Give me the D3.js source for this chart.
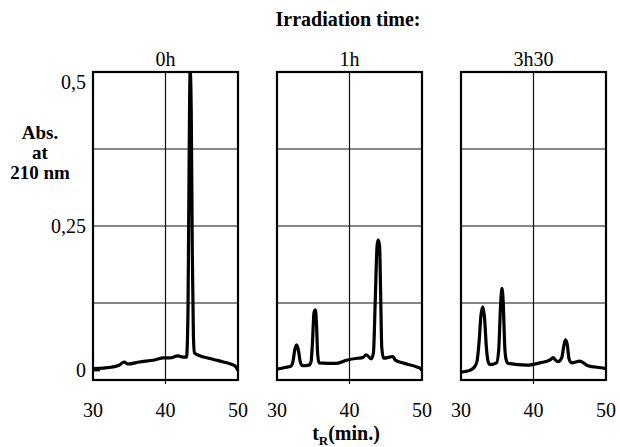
<!DOCTYPE html>
<meta charset="utf-8">

<script src="https://d3js.org/d3.v7.min.js"></script>

<style>
  body { margin: 0; background: #fff; }
</style>

<div id="chart"></div>

<script>

// panels and their chromatograms (retention time in min, absorbance)
var panelLabels = ["0h", "1h", "3h30"]

var t0h = [30, 31.5, 33.6, 34.3, 34.8, 36.4, 38.5, 39.7, 40.6, 41.7, 42.4, 42.9, 43.1, 43.25, 43.4, 43.55, 43.7, 43.85, 44.0, 44.4, 44.8, 45.8, 46.9, 48.0, 49.0, 49.6, 50]
var a0h = [0.003, 0.004, 0.009, 0.0145, 0.011, 0.0145, 0.018, 0.0215, 0.0215, 0.025, 0.023, 0.023, 0.1, 0.35, 0.52, 0.45, 0.2, 0.06, 0.03, 0.027, 0.025, 0.0215, 0.018, 0.0145, 0.011, 0.0075, 0.0]

var t1h = [30, 31.1, 31.9, 32.2, 32.45, 32.7, 32.95, 33.2, 33.5, 34.4, 34.7, 34.9, 35.1, 35.3, 35.45, 35.6, 35.8, 38.2, 39.7, 41.1, 41.8, 42.3, 43.0, 43.3, 43.55, 43.8, 43.95, 44.15, 44.3, 44.45, 44.7, 46.0, 46.3, 47.3, 49.3, 49.7, 50]
var a1h = [0.002, 0.005, 0.007, 0.015, 0.035, 0.044, 0.035, 0.015, 0.008, 0.009, 0.015, 0.05, 0.1, 0.105, 0.08, 0.03, 0.013, 0.012, 0.018, 0.021, 0.022, 0.027, 0.02, 0.03, 0.12, 0.215, 0.226, 0.215, 0.13, 0.04, 0.021, 0.024, 0.018, 0.013, 0.006, 0.004, 0.0]

var t3h30 = [30, 30.6, 31.2, 31.8, 32.2, 32.5, 32.75, 33.0, 33.25, 33.5, 33.75, 34.0, 34.9, 35.2, 35.45, 35.65, 35.85, 36.0, 36.2, 36.5, 39.1, 40.9, 42.3, 42.7, 43.1, 43.4, 43.9, 44.15, 44.4, 44.65, 44.9, 45.25, 46.4, 47.5, 49.6, 50]
var a3h30 = [-0.003, -0.002, 0.0, 0.005, 0.015, 0.05, 0.095, 0.11, 0.09, 0.04, 0.015, 0.01, 0.013, 0.035, 0.11, 0.142, 0.11, 0.05, 0.02, 0.012, 0.009, 0.013, 0.018, 0.022, 0.017, 0.015, 0.022, 0.04, 0.053, 0.045, 0.02, 0.013, 0.016, 0.008, 0.004, 0.003]

var xTicks = [30, 40, 50]
var yTicks = [0, 0.25, 0.5]
var yTickLabels = ["0", "0,25", "0,5"]

var times = [t0h, t1h, t3h30]
var values = [a0h, a1h, a3h30]

var width = 620, height = 447
var panelW = 145, panelStep = 184, left0 = 93
var serif = "'Liberation Serif', 'Times New Roman', Times, 'DejaVu Serif', serif"

var svg = d3.select("#chart")
  .append("svg")
  .attr("width", width)
  .attr("height", height)
  .attr("font-family", serif)

// shared absorbance scale; the frame runs a little below 0 and above 0.5
var y = d3.scaleLinear()
  .domain([-0.0167, 0.5167])
  .range([380, 72])
var yDom = y.domain()
var gridY = d3.range(1, 4).map(function(i){ return yDom[0] + i * (yDom[1] - yDom[0]) / 4 })

var line = d3.line()
  .x(function(d){ return d.x })
  .y(function(d){ return y(d.a) })
  .curve(d3.curveMonotoneX)

panelLabels.forEach(function(label, i) {
  var x0 = left0 + i * panelStep
  var x = d3.scaleLinear().domain([30, 50]).range([x0, x0 + panelW])
  var g = svg.append("g")

  g.append("clipPath").attr("id", "clip" + i)
    .append("rect")
      .attr("x", x(30)).attr("y", y(yDom[1]))
      .attr("width", x(50) - x(30)).attr("height", y(yDom[0]) - y(yDom[1]))

  // horizontal grid
  g.selectAll(".hgrid")
    .data(gridY)
    .enter()
    .append("line")
      .attr("x1", x(30)).attr("x2", x(50))
      .attr("y1", function(d){ return y(d) })
      .attr("y2", function(d){ return y(d) })
      .style("stroke", "#111").style("stroke-width", 1.2)

  // vertical grid at 40, poking out a little at the bottom
  g.append("line")
    .attr("x1", x(40)).attr("x2", x(40))
    .attr("y1", y(yDom[1])).attr("y2", y(yDom[0]) + 4)
    .style("stroke", "#111").style("stroke-width", 1.2)

  // trace
  var pts = times[i].map(function(t, k){ return { x: x(t), a: values[i][k] } })
  g.append("path")
    .datum(pts)
    .attr("d", line)
    .attr("clip-path", "url(#clip" + i + ")")
    .style("fill", "none")
    .style("stroke", "#000")
    .style("stroke-width", 3.2)
    .style("stroke-linejoin", "round")

  // frame
  g.append("rect")
    .attr("x", x(30)).attr("y", y(yDom[1]))
    .attr("width", x(50) - x(30)).attr("height", y(yDom[0]) - y(yDom[1]))
    .style("fill", "none").style("stroke", "#000").style("stroke-width", 2.2)

  // x tick labels
  g.selectAll(".xt")
    .data(xTicks)
    .enter()
    .append("text")
      .attr("x", function(d){ return x(d) })
      .attr("y", 417)
      .attr("text-anchor", "middle")
      .style("font-size", "20px")
      .text(function(d){ return d })

  // panel title
  g.append("text")
    .attr("x", x(40)).attr("y", 66)
    .attr("text-anchor", "middle")
    .style("font-size", "20px")
    .text(label)

  if (i == 0) {
    g.selectAll(".yt")
      .data(yTicks)
      .enter()
      .append("text")
        .attr("x", x0 - 7)
        .attr("y", function(d){ return y(d) })
        .attr("dy", "0.35em")
        .attr("text-anchor", "end")
        .style("font-size", "20px")
        .text(function(d, k){ return yTickLabels[k] })
    // small inner tick at zero
    g.append("line")
      .attr("x1", x0).attr("x2", x0 + 7)
      .attr("y1", y(0)).attr("y2", y(0))
      .style("stroke", "#000").style("stroke-width", 2)
  }
})

// titles
svg.append("text")
  .attr("x", 348).attr("y", 26)
  .attr("text-anchor", "middle")
  .style("font-size", "20px").style("font-weight", "bold")
  .text("Irradiation time:")

var yTitle = svg.append("text")
  .attr("text-anchor", "middle")
  .style("font-size", "19px").style("font-weight", "bold")
;["Abs.", "at", "210 nm"].forEach(function(s, k) {
  yTitle.append("tspan").attr("x", 40).attr("y", 139 + k * 20).text(s)
})

var xTitle = svg.append("text")
  .attr("x", 346).attr("y", 440)
  .attr("text-anchor", "middle")
  .style("font-size", "20px").style("font-weight", "bold")
xTitle.append("tspan").text("t")
xTitle.append("tspan").attr("dy", 5).style("font-size", "13px").text("R")
xTitle.append("tspan").attr("dy", -5).text("(min.)")

</script>
